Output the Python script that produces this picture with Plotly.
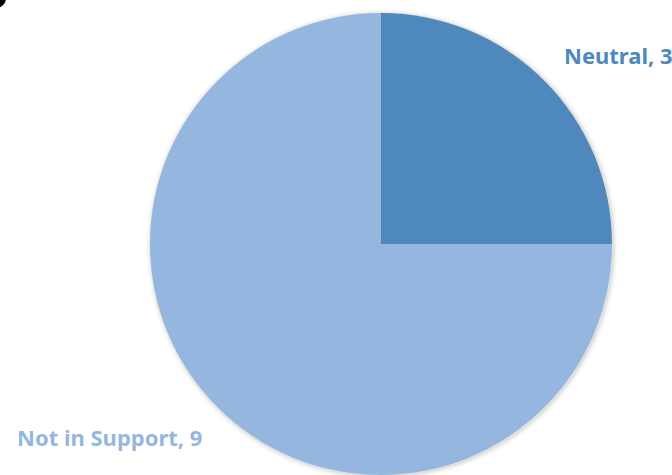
import plotly.graph_objects as go

labels = ["Neutral", "Not in Support"]
values = [3, 9]
colors = ["#4F88BC", "#95B7DF"]

W, H = 672, 475
cx, cy, r = 381, 244, 231

fig = go.Figure()

fig.add_trace(go.Pie(
    labels=labels, values=values, sort=False, direction="clockwise", rotation=0,
    marker=dict(colors=colors, line=dict(width=0)),
    textinfo="none", hoverinfo="label+value", showlegend=False,
    domain=dict(x=[(cx - r) / W, (cx + r) / W], y=[(H - cy - r) / H, (H - cy + r) / H]),
))

# soft shadow rings behind the pie
for extra, alpha in [(5, 0.025), (3, 0.04), (1.5, 0.06)]:
    rr = r + extra
    fig.add_shape(type="circle", xref="paper", yref="paper", layer="below",
                  x0=(cx + 1 - rr) / W, x1=(cx + 1 + rr) / W,
                  y0=(H - cy - 1 - rr) / H, y1=(H - cy - 1 + rr) / H,
                  fillcolor=f"rgba(0,0,0,{alpha})", line=dict(width=0))

label_pos = [(618, 55), (109, 437)]
for lab, val, col, (px, py) in zip(labels, values, colors, label_pos):
    fig.add_annotation(
        x=px / W, y=1 - py / H, xref="paper", yref="paper",
        text=f"<b>{lab}, {val}</b>", showarrow=False,
        font=dict(family="Noto Sans", size=22, color=col),
        xanchor="center", yanchor="middle",
    )

fig.add_shape(type="circle", xref="paper", yref="paper",
              x0=-14 / W, x1=6 / W, y0=1 - 8 / H, y1=1 + 12 / H,
              fillcolor="black", line=dict(width=0))

fig.update_layout(width=W, height=H, margin=dict(l=0, r=0, t=0, b=0),
                  paper_bgcolor="white", plot_bgcolor="white")
fig.write_html("out.html")
